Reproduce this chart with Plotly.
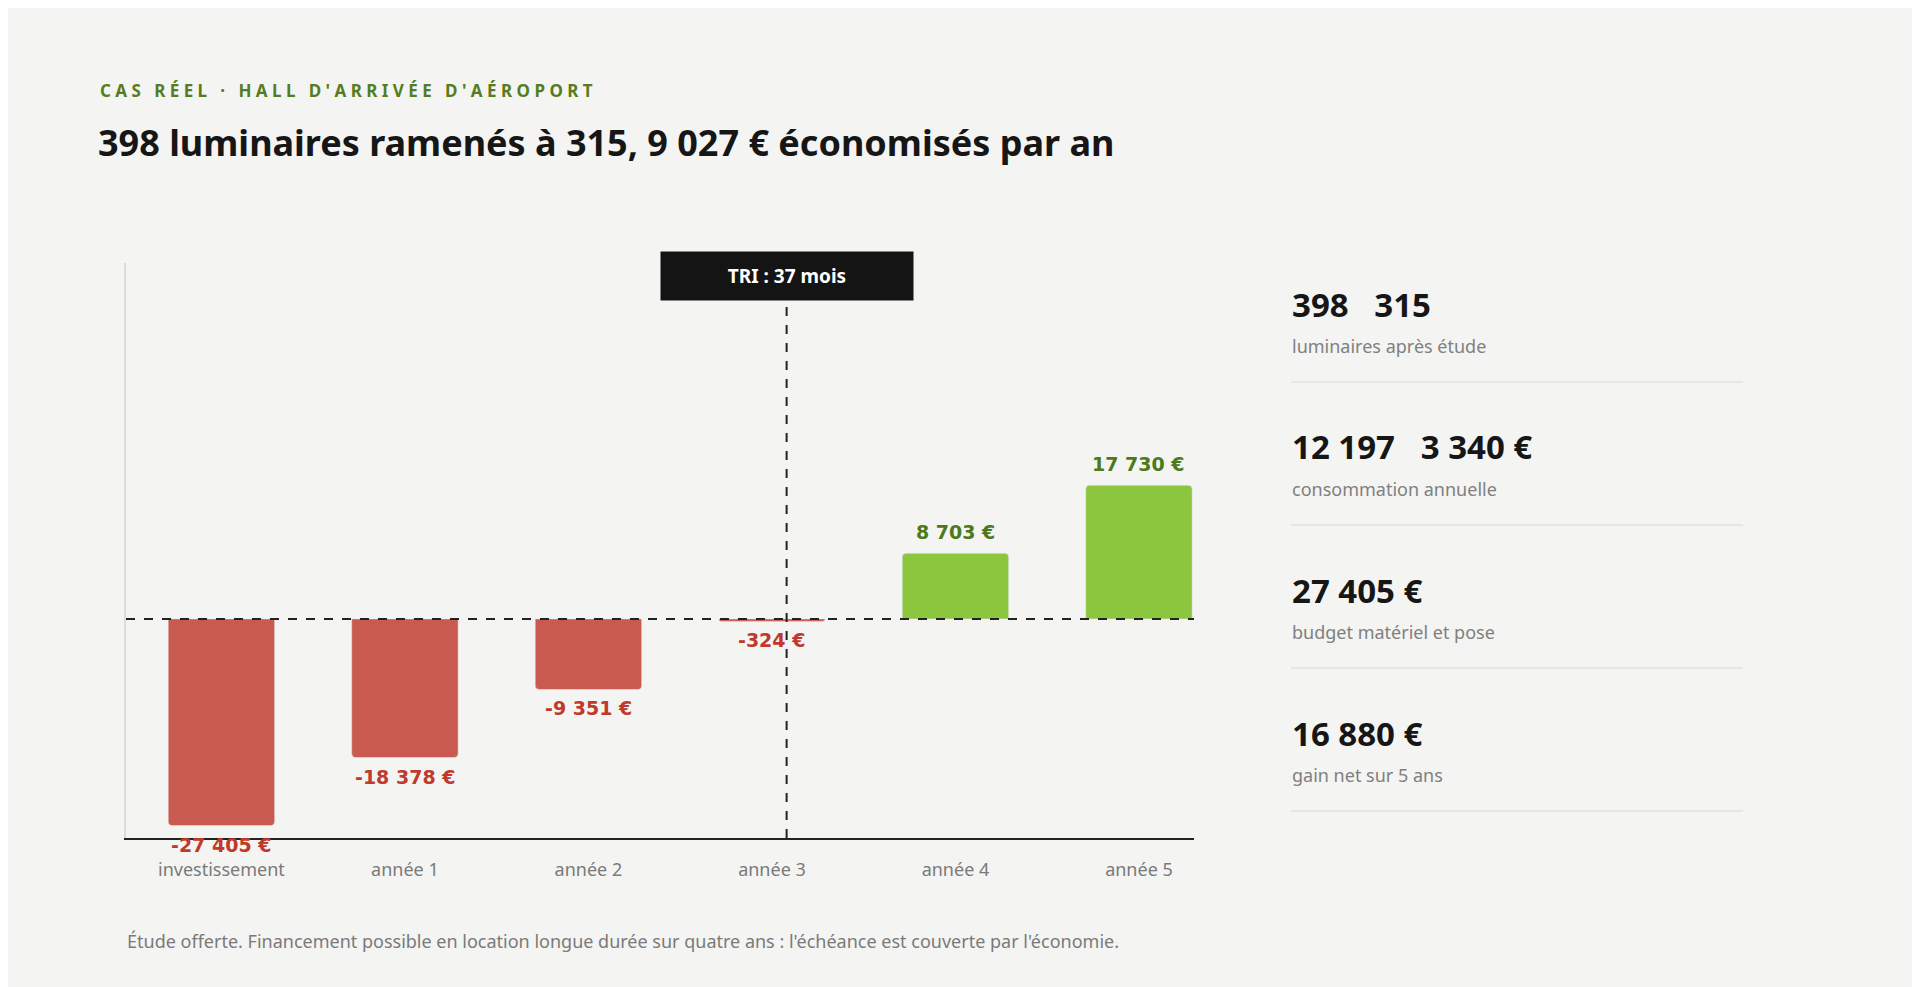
import plotly.graph_objects as go

# Cumulative cash position per year (EUR)
categories = ["investissement", "année 1", "année 2", "année 3", "année 4", "année 5"]
cumul = [-27405, -18378, -9351, -324, 8703, 17730]
value_labels = ["-27 405 €", "-18 378 €", "-9 351 €", "-324 €", "8 703 €", "17 730 €"]
tri_position = 3.08
tri_label = "TRI : 37 mois"

stat_values = ["398   315", "12 197   3 340 €", "27 405 €", "16 880 €"]
stat_labels = ["luminaires après étude", "consommation annuelle",
               "budget matériel et pose", "gain net sur 5 ans"]

W, H = 1920, 987
RED, GREEN = "#c95a4f", "#8cc63f"
RED_T, GREEN_T = "#c0392b", "#4c7a1b"
FONT = "Noto Sans"

xs = list(range(len(categories)))
colors = [RED if v < 0 else GREEN for v in cumul]

fig = go.Figure(go.Bar(x=xs, y=cumul, width=0.58, marker=dict(color=colors, cornerradius=4),
                       hoverinfo="skip"))

for x, v, lab in zip(xs, cumul, value_labels):
    fig.add_annotation(x=x, y=v, text=f"<b>{lab}</b>", showarrow=False,
                       yanchor="bottom" if v > 0 else "top", yshift=8 if v > 0 else -6,
                       font=dict(family="DejaVu Sans", size=19, color=GREEN_T if v > 0 else RED_T))

# zero line and TRI marker
fig.add_shape(type="line", x0=-0.52, x1=5.3, y0=0, y1=0, line=dict(color="#222", width=2, dash="dash"))
fig.add_shape(type="line", x0=tri_position, x1=tri_position, y0=-29050, y1=42000,
              line=dict(color="#222", width=2, dash="dash"))
fig.add_annotation(x=tri_position, y=45500, text=f"<b>{tri_label}</b>", showarrow=False,
                   bgcolor="#141414", font=dict(family=FONT, size=19, color="white"),
                   borderpad=11, width=230, yanchor="middle")

def px(x):
    return (x - 6) / W

def py(y):
    return 1 - (y - 6) / H

# header / footer
fig.add_annotation(xref="paper", yref="paper", x=px(96), y=py(88), xanchor="left", yanchor="middle",
                   text="<b>C A S   R É E L   ·   H A L L   D ' A R R I V É E   D ' A É R O P O R T</b>",
                   showarrow=False, font=dict(family=FONT, size=17, color="#557d1f"))
fig.add_annotation(xref="paper", yref="paper", x=px(94), y=py(140), xanchor="left", yanchor="middle",
                   text="<b>398 luminaires ramenés à 315, 9 027 € économisés par an</b>",
                   showarrow=False, font=dict(family=FONT, size=36, color="#161616"))
fig.add_annotation(xref="paper", yref="paper", x=px(123), y=py(939), xanchor="left", yanchor="middle",
                   text="Étude offerte. Financement possible en location longue durée sur quatre ans : l'échéance est couverte par l'économie.",
                   showarrow=False, font=dict(family=FONT, size=18, color="#7a7a7a"))

# side stats
for i, (val, lab) in enumerate(zip(stat_values, stat_labels)):
    base = 302 + i * 143
    fig.add_annotation(xref="paper", yref="paper", x=px(1288), y=py(base), xanchor="left",
                       yanchor="middle", text=f"<b>{val}</b>", showarrow=False,
                       font=dict(family=FONT, size=33, color="#161616"))
    fig.add_annotation(xref="paper", yref="paper", x=px(1288), y=py(base + 42), xanchor="left",
                       yanchor="middle", text=lab, showarrow=False,
                       font=dict(family=FONT, size=18, color="#808080"))
    fig.add_shape(type="line", xref="paper", yref="paper", x0=px(1289), x1=px(1741),
                  y0=py(base + 78), y1=py(base + 78), line=dict(color="#e2e2e0", width=1.5))

fig.update_layout(
    width=W, height=H, margin=dict(l=0, r=0, t=0, b=0),
    paper_bgcolor="#f4f4f2", plot_bgcolor="#f4f4f2", showlegend=False,
    font=dict(family=FONT),
    xaxis=dict(domain=[px(124), px(1192)], range=[-0.52, 5.3], tickvals=xs, ticktext=categories,
               showgrid=False, zeroline=False, showline=True, linecolor="#222", linewidth=2,
               tickfont=dict(size=18, color="#7a7a7a"), ticks="", ticklabelstandoff=14),
    yaxis=dict(domain=[py(836), py(261)], range=[-29050, 47200], showgrid=False,
               zeroline=False, showticklabels=False, showline=True, linecolor="#dcdcda", linewidth=2),
)

fig.write_html("out.html")
